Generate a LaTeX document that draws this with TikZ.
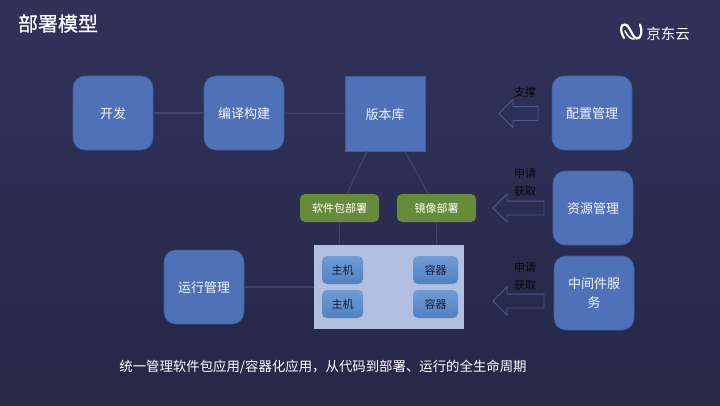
\documentclass[tikz,border=0pt]{standalone}
\usepackage{fontspec}
\setmainfont{Noto Sans CJK SC}
\newfontfamily\titlefont[FakeBold=0.6]{Noto Sans CJK SC}
\usetikzlibrary{calc,shapes.arrows}
\newcommand\boxtext[1]{\raisebox{-5.6pt}[0pt][0pt]{#1}}
\definecolor{bgtop}{HTML}{30325A}
\definecolor{bgbot}{HTML}{262848}
\definecolor{boxblue}{HTML}{4E71B8}
\definecolor{boxedge}{HTML}{3F5E9F}
\definecolor{linkc}{HTML}{3E4370}
\definecolor{greenbox}{HTML}{668C3B}
\definecolor{panel}{HTML}{B3BFE0}
\definecolor{hosttop}{HTML}{6F9BD6}
\definecolor{hostbot}{HTML}{5182C1}
\definecolor{arrowedge}{HTML}{4A5A92}
\tikzset{
  x=1pt,y=-1pt,
  mainbox/.style={draw=boxedge,line width=.6pt,fill=boxblue,rounded corners=12pt,minimum width=80pt,minimum height=74pt,inner sep=0pt,text=white!92!boxblue,font=\fontsize{13}{18.7}\selectfont,align=center},
  repobox/.style={mainbox,rounded corners=0pt,minimum height=75pt},
  greenlabel/.style={fill=greenbox,rounded corners=5pt,minimum width=79pt,minimum height=28pt,inner sep=0pt,text=white,font=\fontsize{11}{13}\selectfont},
  panelbox/.style={fill=panel,minimum width=150pt,minimum height=84pt,inner sep=0pt},
  hostbox/.style={top color=hosttop,bottom color=hostbot,rounded corners=5pt,minimum height=28pt,inner sep=0pt,text=black!30!bgbot,font=\fontsize{11}{13}\selectfont},
  link/.style={draw=linkc,line width=1.2pt},
  hollowarrow/.style={single arrow,shape border rotate=180,draw=arrowedge,line width=.8pt,fill=none,inner sep=0pt,text height=13pt,text depth=0pt,single arrow head extend=7pt,minimum width=27pt},
  darklabel/.style={inner sep=0pt,text=black!85!bgbot,font=\fontsize{11}{13}\selectfont},
}
\begin{document}
\begin{tikzpicture}
\useasboundingbox (0,0) rectangle (720,405);
\shade[top color=bgtop,bottom color=bgbot] (0,0) rectangle (720,405);

% title and logo
\node[inner sep=0pt,text=white,font=\titlefont\fontsize{20}{22}\selectfont] (title) at (58,23.5) {部署模型};
\draw[white,line width=2.2pt,line cap=round,line join=round]
  (624,38) .. controls (620,31) and (620,24) .. (625,24.5)
  .. controls (630,25) and (632,38) .. (637,38.5)
  .. controls (641,39) and (643,31) .. (640,24.5);
\draw[white,line width=1.6pt,line cap=round] (625,31) .. controls (628,37) and (631,39) .. (634,39);
\node[inner sep=0pt,text=white,font=\fontsize{14.5}{16}\selectfont] (brand) at (668,34) {京东云};

% main boxes
\node[mainbox] (dev) at (113,113) {\boxtext{开发}};
\node[mainbox] (build) at (244,113) {\boxtext{编译构建}};
\node[repobox] (repo) at (385,113.5) {\boxtext{版本库}};
\node[mainbox] (config) at (592,113) {\boxtext{配置管理}};
\node[mainbox] (res) at (593,208) {\boxtext{资源管理}};
\node[mainbox] (mid) at (594,293) {中间件服\\务};
\node[mainbox] (run) at (204,287) {\boxtext{运行管理}};

% deployment
\node[greenlabel] (pkg) at (339.5,208) {软件包部署};
\node[greenlabel] (img) at (436.5,208) {镜像部署};
\node[panelbox] (panel) at (389,287) {};
\node[hostbox,minimum width=41pt] (h1) at (342.5,270) {主机};
\node[hostbox,minimum width=41pt] (h2) at (342.5,304) {主机};
\node[hostbox,minimum width=45pt] (c1) at (435.5,270) {容器};
\node[hostbox,minimum width=45pt] (c2) at (435.5,304) {容器};

% connectors
\draw[link] (dev) -- (build);
\draw[link] (build) -- (repo);
\draw[link] ($(repo.south)+(-18,0)$) -- ($(pkg.north)+(7.5,0)$);
\draw[link] ($(repo.south)+(20,0)$) -- ($(img.north)+(-8.5,0)$);
\draw[link] (pkg.south) -- (pkg.south |- panel.north);
\draw[link] (img.south) -- (img.south |- panel.north);
\draw[link] (run) -- (panel);

% hollow arrows
\node[hollowarrow,minimum height=39pt] (a1) at (522,113.5) {};
\node[hollowarrow,minimum height=51pt] (a2) at (522,208) {};
\node[hollowarrow,minimum height=51pt] (a3) at (522,301) {};
\node[darklabel] (l1) at (525,92) {支撑};
\node[darklabel] (l2) at (525,173) {申请};
\node[darklabel] (l3) at (525,191) {获取};
\node[darklabel] (l4) at (525,267) {申请};
\node[darklabel] (l5) at (525,285) {获取};

% caption
\node[inner sep=0pt,text=white,font=\fontsize{13.4}{16}\selectfont] (cap) at (323,366.5) {统一管理软件包应用/容器化应用，从代码到部署、运行的全生命周期};
\end{tikzpicture}
\end{document}
